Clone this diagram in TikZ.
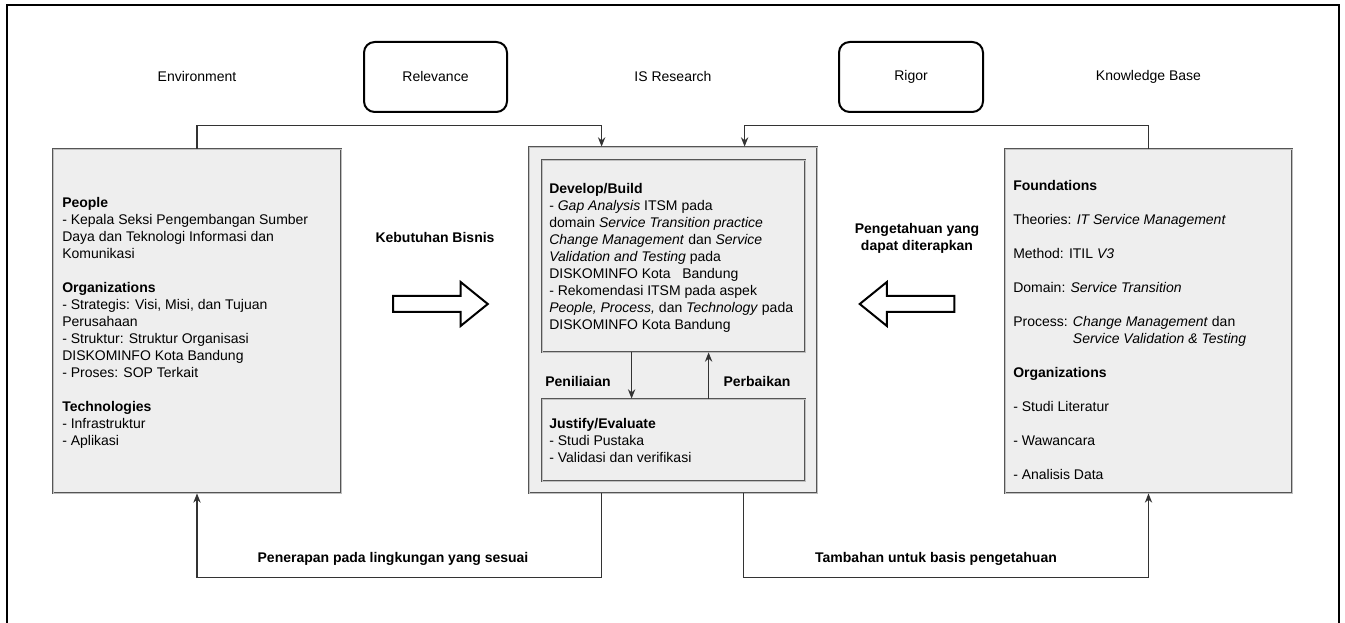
\documentclass[tikz,border=0pt]{standalone}
\usepackage{fontspec}
\setmainfont{Liberation Sans}
\usetikzlibrary{arrows.meta,positioning,calc,shapes.arrows}
\definecolor{boxgray}{RGB}{238,238,238}
\definecolor{edgegray}{RGB}{85,85,85}
\newcommand{\gap}{\\[12.75pt]}

\begin{document}
\begin{tikzpicture}[x=0.75pt,y=-0.75pt,every node/.style={font=\fontsize{10.5pt}{12.75pt}\selectfont}]
	\tikzstyle{panel}=[draw=edgegray, double=gray!50, double distance=0.7pt, line width=0.6pt, fill=boxgray, rectangle, inner sep=0pt]
	\tikzstyle{round_b}=[draw, line width=1.5pt, rectangle, rounded corners=8pt, fill=white, minimum height=52.5pt]
	\tikzstyle{txt}=[anchor=north west, align=left, inner sep=0pt]
	\tikzstyle{lbl}=[align=center, inner sep=0pt, font=\fontsize{10.5pt}{12.75pt}\selectfont\bfseries]
	\tikzstyle{conn}=[draw=black!80, line width=0.8pt, -{Stealth[length=7pt,width=5.5pt]}]
	\tikzstyle{fat_arrow}=[draw, line width=1.5pt, fill=white, single arrow, single arrow head extend=10.5pt, single arrow tip angle=78, inner sep=5.25pt, minimum height=71pt]

	\useasboundingbox (0,0) rectangle (1345,623);
	\draw[line width=0.8pt] (7,640) -- (7,5) -- (1339,5) -- (1339,640);

	% top row
	\node[round_b, minimum width=107.25pt] (rel) at (435.5,77) {Relevance};
	\node[round_b, minimum width=108pt] (rig) at (911,77) {Rigor};

	% main panels
	\node[panel, minimum width=216pt, minimum height=258pt] (env) at (197,321) {};
	\node[panel, minimum width=216pt, minimum height=259.5pt] (isr) at (673,320) {};
	\node[panel, minimum width=197.25pt, minimum height=144pt] (dev) at (673.5,256) {};
	\node[panel, minimum width=197.25pt, minimum height=61.5pt] (jus) at (673.5,440) {};
	\node[panel, minimum width=215.25pt, minimum height=258pt] (kb) at (1148.5,321) {};

	\node (envlbl) at (env.north |- rel) {Environment};
	\node (isrlbl) at (isr.north |- rel) {IS Research};
	\node (kblbl) at (kb.north |- rel) {Knowledge Base};

	\node[txt] (envtxt) at (62,195.1) {\strut\textbf{People}\\- Kepala Seksi Pengembangan Sumber\\Daya dan Teknologi Informasi dan\\Komunikasi\gap
		\textbf{Organizations}\\- Strategis: Visi, Misi, dan Tujuan\\Perusahaan\\- Struktur: Struktur Organisasi\\DISKOMINFO Kota Bandung\\- Proses: SOP Terkait\gap
		\textbf{Technologies}\\- Infrastruktur\\- Aplikasi};
	\node[txt] (devtxt) at (549,181.1) {\strut\textbf{Develop/Build}\\- \textit{Gap Analysis} ITSM pada\\domain \textit{Service Transition practice}\\
		\textit{Change Management} dan \textit{Service}\\\textit{Validation and Testing} pada\\DISKOMINFO Kota \ \ Bandung\\
		- Rekomendasi ITSM pada aspek\\\textit{People, Process,} dan \textit{Technology} pada\\DISKOMINFO Kota Bandung};
	\node[txt] (justxt) at (549,416.1) {\strut\textbf{Justify/Evaluate}\\- Studi Pustaka\\- Validasi dan verifikasi};
	\node[txt] (kbtxt) at (1013,178.1) {\strut\textbf{Foundations}\gap Theories: \textit{IT Service Management}\gap Method: ITIL \textit{V3}\gap
		Domain: \textit{Service Transition}\gap Process: \textit{Change Management} dan\\\phantom{Process: }\textit{Service Validation \& Testing}\gap
		\textbf{Organizations}\gap - Studi Literatur\gap - Wawancara\gap - Analisis Data};

	% big arrows
	\node[fat_arrow] (need) at (435.5,304) {};
	\node[lbl] (needlbl) at (435,237) {Kebutuhan Bisnis};
	\node[fat_arrow, shape border rotate=180] (know) at (912,304) {};
	\node[lbl] (knowlbl) at (917,238.5) {Pengetahuan yang\\dapat diterapkan};

	% inside IS research
	\draw[conn] ($(dev.south west)+(90,0)$) -- ($(jus.north west)+(90,0)$);
	\draw[conn] ($(jus.north west)+(167,0)$) -- ($(dev.south west)+(167,0)$);
	\node[lbl] (assess) at (578,381) {Peniliaian};
	\node[lbl] (refine) at (757,381) {Perbaikan};

	% relevance / rigor cycles
	\draw[conn] (env.north) |- ($(isr.north west)+(73,-21)$) -- ($(isr.north west)+(73,0)$);
	\draw[conn] (kb.north) |- ($(isr.north west)+(216,-21)$) -- ($(isr.north west)+(216,0)$);
	\draw[conn] ($(isr.south west)+(73,0)$) |- ($(env.south)+(0,84)$) -- (env.south);
	\draw[conn] ($(isr.south west)+(215,0)$) |- ($(kb.south)+(0,84)$) -- (kb.south);
	\node[lbl] (applylbl) at (393,559) {Penerapan pada lingkungan yang sesuai};
	\node[lbl] (addlbl) at (936,559) {Tambahan untuk basis pengetahuan};
\end{tikzpicture}
\end{document}
